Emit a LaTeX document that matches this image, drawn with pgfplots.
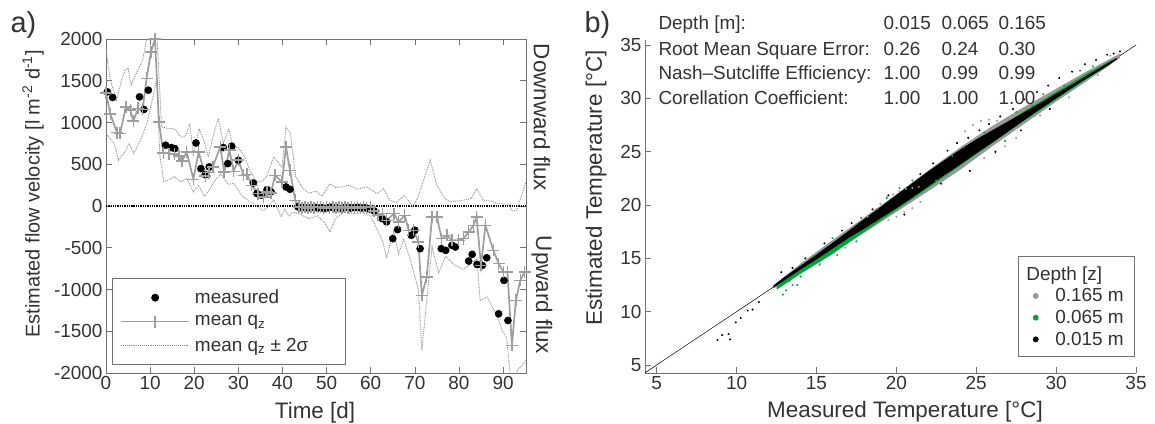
\documentclass[border=0pt]{standalone}
\usepackage{fontspec}
\setmainfont{Liberation Sans}
\usepackage{pgfplots}
\pgfplotsset{compat=1.18}
\definecolor{txt}{gray}{0.2}
\definecolor{axc}{gray}{0.45}
\definecolor{meanc}{gray}{0.62}
\definecolor{sigc}{gray}{0.55}
\definecolor{grn}{RGB}{0,165,60}
\definecolor{ptgray}{gray}{0.6}
\begin{document}
\begin{tikzpicture}[x=1bp,y=1bp,font=\fontsize{19}{22}\selectfont,text=txt]
\path[use as bounding box] (0,0) rectangle (1155,423);
%================ panel a ================
\begin{axis}[at={(106bp,50bp)},anchor=south west,scale only axis,
  width=420bp,height=334bp,
  xmin=0,xmax=95.2,ymin=-2000,ymax=2000,
  xtick={0,10,...,90},ytick={-2000,-1500,...,2000},
  tick align=inside,major tick length=6bp,
  axis line style={axc,line width=0.8pt},tick style={axc,line width=0.6pt},
  ticklabel style={font=\fontsize{19}{22}\selectfont,text=txt},
  /pgf/number format/assume math mode=true,
  /pgf/number format/set thousands separator={},
  scaled y ticks=false,
  legend image code/.code={\draw[mark repeat=2,mark phase=2,#1] plot coordinates {(0bp,0bp) (34bp,0bp) (68bp,0bp)};},
  legend style={at={(0.0143,0.024)},anchor=south west,draw=axc,line width=0.6pt,fill=white,
    font=\fontsize{19}{22}\selectfont,text=txt,inner xsep=8bp,inner ysep=10bp,row sep=6.5bp,column sep=3bp,
    nodes={inner sep=2bp}},
  legend cell align=left]
\addplot[black,densely dotted,line width=1.3pt,forget plot] coordinates {(0,0) (95.2,0)};
% upper bound
\addplot[sigc,densely dotted,line width=0.9pt,forget plot] coordinates {
(0,1870) (1,1500) (2.4,1270) (3.5,1500) (4.3,1627) (5,1650) (5.7,1450) (7,1600) (8.3,1747) (9.4,2050)
(11.5,2100) (12.6,947) (14,930) (15.5,925) (17,827) (18,830) (19,988) (19.8,620) (21.1,925) (22.2,785)
(23.2,585) (24.6,905) (25.5,1047) (26.6,747) (27.8,925) (28.9,707) (30,700) (31.5,585) (32.6,425) (34.2,285)
(35.5,300) (36.5,365) (38,585) (39.9,468) (40.8,947) (41.8,867) (43,350) (44.7,208) (46,150) (47.5,180)
(49,120) (50.8,268) (52,220) (53.5,230) (55.3,248) (57,200) (59,230) (61.4,149) (62.9,208) (64.3,68)
(65.8,40) (67.6,128) (69.5,-5) (70.6,90) (71.7,268) (73.5,547) (75,248) (76.8,90) (78,50) (81,70)
(82.8,90) (84,208) (85.5,70) (87,60) (89,30) (91,20) (92.2,-60) (93.1,-50) (95.2,288)};
% lower bound
\addplot[sigc,densely dotted,line width=0.9pt,forget plot] coordinates {
(0,870) (1,800) (1.9,745) (2.8,548) (4.3,650) (5.2,748) (6.3,630) (7.8,790) (9.3,990) (10.7,1320)
(11.5,1520) (12.2,600) (13.1,288) (14.5,320) (15.5,350) (17,290) (18.3,330) (19.8,170) (21,250) (22.3,110)
(23.5,200) (24.6,300) (26,380) (27.7,260) (29,270) (30.5,140) (32.3,60) (34.2,0) (35.7,-55) (37,0)
(38,80) (39.7,-130) (40.5,-40) (41.5,-120) (42.5,-72) (44,-100) (46,-150) (48,-120) (49.5,-200) (50.8,-311)
(52,-150) (54,-72) (56,-90) (58,-80) (60,-120) (62.7,-420) (63.6,-620) (65.2,-300) (66.3,-570) (67.5,-400)
(69,-650) (70.8,-1000) (71.6,-1730) (72.7,-1130) (73.9,-490) (75.4,-800) (77,-600) (78.8,-700) (81,-760) (82.5,-700)
(84.1,-630) (84.8,-1131) (86.4,-1090) (88.6,-1311) (89.8,-1491) (90.8,-1571) (91.6,-2000) (92.3,-2200) (93.2,-1971) (94.6,-1891) (95.2,-1850)};
% measured
\addplot[only marks,mark=*,mark size=3.6bp,black] coordinates {
(0.3,1367) (1.5,1300) (7.6,1307) (8.6,1156) (9.6,1387) (13.5,728) (14.8,700) (15.6,688) (20.4,755) (21.5,448)
(22.5,375) (23.4,468) (26.6,700) (27.6,508) (28.5,716) (30,548) (33.4,276) (34.2,150) (35.2,130) (36.5,196)
(37.4,170) (40.8,228) (41.7,200) (43.5,-10) (44.3,-20) (45,-15) (45.8,-25) (46.5,-20) (47.3,-15) (48,-25)
(48.8,-20) (49.5,-30) (50.3,-20) (51,-15) (51.8,-25) (52.5,-20) (53.3,-30) (54,-20) (54.8,-15) (55.5,-25)
(56.3,-20) (57,-15) (57.8,-25) (58.5,-20) (59.3,-30) (60,-40) (60.8,-60) (62.6,-151) (63.6,-190) (65,-391)
(66.1,-283) (69.2,-351) (70,-291) (71.2,-511) (76,-511) (77,-531) (78.4,-471) (79.2,-491) (82.2,-659) (83,-579)
(84.1,-700) (85.3,-711) (86.3,-620) (89,-1291) (90.2,-891) (91.1,-1371)};
\addlegendentry{\makebox[140bp][l]{measured}}
% mean
\addplot[meanc,line width=1.7pt,mark=+,mark size=6bp,mark options={solid,line width=1.5pt}] coordinates {
(0,1355) (1,1100) (2.5,880) (3.2,870) (4.5,1187) (5.5,1150) (6.2,1019) (7.3,1168) (8.3,1156) (9.2,1528)
(10.2,1847) (11.1,2000) (12,1007) (13,636) (14.3,628) (15.5,620) (16.5,600) (17.2,536) (18.3,648) (19.8,320)
(21,648) (22.5,360) (23.3,400) (24.2,468) (25.9,707) (26.8,408) (28,668) (28.9,416) (30,548) (31.2,368)
(32,380) (33,248) (34.5,149) (35.7,108) (36.5,168) (37.4,156) (38.3,368) (39.9,288) (40.8,707) (41.7,428)
(42.9,68) (43.7,-10) (44.4,-20) (45.1,-15) (45.8,-25) (46.5,-10) (47.2,-20) (47.9,-15) (48.6,-10) (49.3,-25)
(50,-15) (50.7,-20) (51.4,-10) (52.1,-25) (52.8,-15) (53.5,-20) (54.2,-10) (54.9,-25) (55.6,-15) (56.3,-20)
(57,-10) (57.7,-25) (58.4,-15) (59.1,-20) (59.9,-12) (60.8,-60) (61.7,-112) (62.7,-91) (63.6,-171) (65.3,-91)
(66.3,-192) (67.7,-112) (68.6,-291) (69.7,-291) (70.8,-432) (71.6,-1071) (72.7,-851) (73.9,-132) (75,-132) (76.1,-391)
(77.3,-351) (78.4,-411) (79.9,-411) (81,-391) (82.2,-312) (83.3,-231) (84,-132) (85,-711) (86,-231) (87.8,-531)
(89,-691) (90.1,-791) (91,-791) (92,-1670) (92.9,-1131) (93.9,-891) (94.9,-791)};
\addlegendentry{mean q\textsubscript{z}}
\addlegendimage{sigc,densely dotted,line width=0.9pt}
\addlegendentry{mean q\textsubscript{z} ± 2σ}
\end{axis}
\node[anchor=base west,font=\fontsize{29}{32}\selectfont] at (7,390) {a)};
\node[rotate=90,font=\fontsize{20}{24}\selectfont] at (33,229) {Estimated flow velocity [l m\textsuperscript{-2} d\textsuperscript{-1}]};
\node[anchor=base,font=\fontsize{22.5}{26}\selectfont] at (315,5) {Time [d]};
\node[rotate=-90,font=\fontsize{22.5}{26}\selectfont] at (542,305.5) {Downward flux};
\node[rotate=-90,font=\fontsize{22.5}{26}\selectfont] at (542,128) {Upward flux};
%================ panel b ================
\begin{axis}[at={(645bp,50bp)},anchor=south west,scale only axis,
  width=491bp,height=333bp,
  xmin=4.27,xmax=35,ymin=4.25,ymax=35.47,
  axis lines=left,axis line style={-,axc,line width=0.8pt},
  xtick={5,10,...,35},ytick={5,10,...,35},
  tick align=inside,major tick length=6bp,tick style={axc,line width=0.6pt},
  ticklabel style={font=\fontsize{19}{22}\selectfont,text=txt},
  /pgf/number format/assume math mode=true,
  legend image code/.code={\draw[mark repeat=2,mark phase=2,#1] plot coordinates {(0bp,0bp) (8bp,0bp) (16bp,0bp)};},
  legend style={at={(0.998,0.048)},anchor=south east,draw=axc,line width=0.6pt,fill=white,
    font=\fontsize{19}{22}\selectfont,text=txt,inner xsep=9bp,inner ysep=8bp,row sep=3bp,column sep=15bp,
    nodes={inner sep=2bp}},
  legend cell align=left]
% 1:1 line
\addplot[black,line width=0.5pt,forget plot] coordinates {(4.27,4.27) (35,35)};
% gray band (0.165 m)
\addplot[fill=ptgray,draw=none,forget plot] coordinates {
(12.3,12.45) (14,14.5) (16,16.7) (18,18.85) (20,21.0) (22,23.25) (24,25.4) (26,27.4) (28,29.2) (30,30.9) (32,32.6) (34,34.2)
(34,33.8) (32,31.7) (30,29.7) (28,27.6) (26,25.5) (24,23.3) (22,21.3) (20,19.35) (18,17.4) (16,15.5) (14,13.6) (12.3,12.15)} -- cycle;
% green band (0.065 m)
\addplot[fill=grn,draw=none,forget plot] coordinates {
(12.5,12.5) (14,14.2) (16,16.2) (18,18.2) (20,20.3) (22,22.5) (24,24.7) (26,26.8) (28,28.8) (30,30.6) (32,32.4) (33.5,33.6)
(33.5,33.3) (32,31.9) (30,29.9) (28,27.9) (26,25.8) (24,23.7) (22,21.6) (20,19.55) (18,17.5) (16,15.4) (14,13.55) (12.5,12.05)} -- cycle;
% black band (0.015 m)
\addplot[fill=black,draw=none,forget plot] coordinates {
(12.3,12.45) (13,13.25) (14,14.3) (15,15.35) (16,16.45) (17,17.55) (18,18.7) (19,19.8) (20,20.95) (21,22.05) (22,23.15) (23,24.2)
(24,25.2) (25,26.15) (26,27.0) (27,27.85) (28,28.7) (29,29.55) (30,30.45) (31,31.3) (32,32.2) (33,33.1) (33.8,33.8)
(33.8,33.65) (33,32.85) (32,31.95) (31,31.0) (30,30.0) (29,29.0) (28,27.95) (27,26.9) (26,25.85) (25,24.85) (24,23.8) (23,22.8)
(22,21.75) (21,20.7) (20,19.7) (19,18.75) (18,17.8) (17,16.9) (16,15.9) (15,14.9) (14,13.95) (13,12.95) (12.3,12.25)} -- cycle;
% scattered points
\addplot[only marks,mark=*,mark size=0.8bp,ptgray,forget plot] coordinates {
(18.2,18.9) (18.6,19.5) (19.0,20.1) (19.4,20.6) (19.8,21.0) (20.2,21.3) (20.6,21.5) (21.0,21.6) (21.4,21.7)
(19.5,18.6) (20.0,18.9) (20.5,19.3) (21.0,19.7) (21.5,20.3)
(23.8,25.8) (24.3,26.9) (24.8,27.5) (25.3,27.9) (25.8,28.0) (26.3,27.9) (26.8,27.8)
(25.5,24.4) (26.2,24.9) (26.8,25.5) (27.5,26.3) (29,28.4) (30.8,30.1) (32.6,32.2) (33.4,34.0) (15.2,14.5) (16.8,16.0)};
\addplot[only marks,mark=*,mark size=0.8bp,grn,forget plot] coordinates {
(12.9,11.6) (13.1,12.0) (13.5,12.5) (13.8,12.5) (14.8,15.2) (14.0,13.3) (15.2,14.4) (16.3,15.3) (17.5,16.6) (18.8,19.6)
(19.4,20.7) (20.2,21.6) (21,22.3) (22.5,22.3) (23.5,24.6) (24.2,25.4) (25.5,26.8) (26.8,26.0) (27.5,28.7) (28.5,29.3)
(29.2,30.4) (30.5,31.2) (31.5,32.6) (32.3,33.0) (16.0,16.9) (17.8,18.8) (12.7,12.5) (13.3,12.9)};
\addplot[only marks,mark=*,mark size=0.8bp,black,forget plot] coordinates {
(12.8,13.7) (8.8,7.35) (9.1,7.8) (9.5,7.9) (9.6,7.4) (9.95,9.0) (10.26,9.4) (10.7,10.1) (11.0,10.2) (11.4,10.9)
(15.5,16.4) (16.6,17.6) (17.2,18.3) (18.5,19.6) (19.5,20.9) (21.5,22.9) (22.3,23.9) (23.2,25.1) (23.8,25.8) (24.5,26.3)
(25.2,27.0) (25.8,27.6) (26.5,28.3) (27.3,29.0) (28,29.9) (28.8,30.6) (29.5,31.2) (30.2,31.9) (31,32.5) (31.8,33.2)
(32.5,33.6) (33.2,34.1) (33.6,34.2) (34,34.4) (20.5,19.1) (22.8,22.0) (24.6,23.2) (26.2,25.0) (27.8,27.0) (29.6,29.0)
(14.3,15.0) (13.5,14.1)};
\addlegendimage{empty legend}
\addlegendentry{\hspace*{-29bp}Depth [z]}
\addlegendimage{only marks,mark=*,mark size=2.6bp,ptgray}
\addlegendentry{0.165 m}
\addlegendimage{only marks,mark=*,mark size=2.6bp,grn}
\addlegendentry{0.065 m}
\addlegendimage{only marks,mark=*,mark size=2.6bp,black}
\addlegendentry{0.015 m}
\end{axis}
\node[anchor=base west,font=\fontsize{29}{32}\selectfont] at (581,390) {b)};
\node[rotate=90,font=\fontsize{22.5}{26}\selectfont] at (596,235) {Estimated Temperature [°C]};
\node[anchor=base,font=\fontsize{22.5}{26}\selectfont] at (905,6) {Measured Temperature [°C]};
% statistics table
\node[anchor=base west] at (655,393) {Depth [m]:};
\node[anchor=base west] at (655,368) {Root Mean Square Error:};
\node[anchor=base west] at (655,344) {Nash‒Sutcliffe Efficiency:};
\node[anchor=base west] at (655,319) {Corellation Coefficient:};
\node[anchor=base west] at (880,393) {0.015};
\node[anchor=base west] at (938,393) {0.065};
\node[anchor=base west] at (995,393) {0.165};
\node[anchor=base west] at (880,368) {0.26};
\node[anchor=base west] at (938,368) {0.24};
\node[anchor=base west] at (995,368) {0.30};
\node[anchor=base west] at (880,344) {1.00};
\node[anchor=base west] at (938,344) {0.99};
\node[anchor=base west] at (995,344) {0.99};
\node[anchor=base west] at (880,319) {1.00};
\node[anchor=base west] at (938,319) {1.00};
\node[anchor=base west] at (995,319) {1.00};
\end{tikzpicture}
\end{document}
